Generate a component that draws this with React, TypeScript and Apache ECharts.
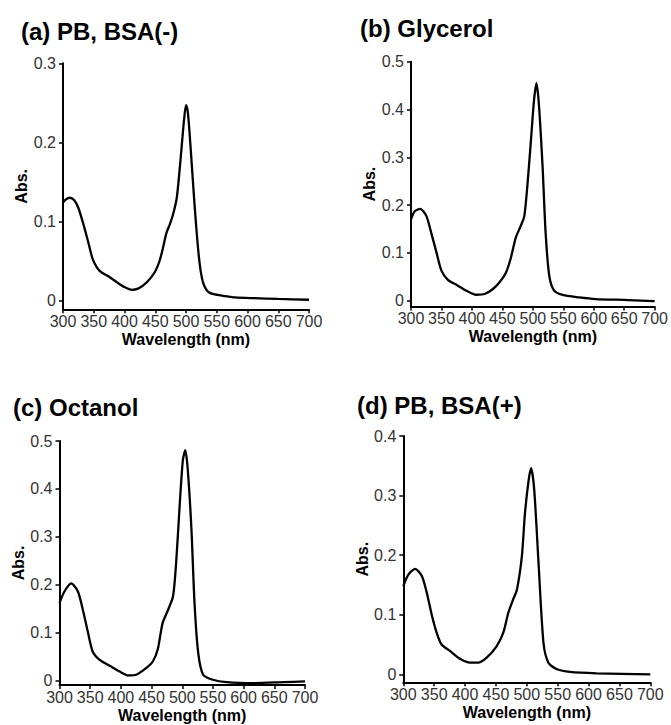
import React, { useEffect, useRef } from "react";
import * as echarts from "echarts";

// ---- Data ----
const panelTitles = ["(a) PB, BSA(-)", "(b) Glycerol", "(c) Octanol", "(d) PB, BSA(+)"];
const xTickValues = [300, 350, 400, 450, 500, 550, 600, 650, 700];
const yTicksA = [0, 0.1, 0.2, 0.3];
const yTicksB = [0, 0.1, 0.2, 0.3, 0.4, 0.5];
const yTicksC = [0, 0.1, 0.2, 0.3, 0.4, 0.5];
const yTicksD = [0, 0.1, 0.2, 0.3, 0.4];

// [wavelength (nm), absorbance]
const spectrumA: [number, number][] = [
  [300, 0.124], [305, 0.128], [311, 0.13], [318, 0.127], [325, 0.117], [333, 0.097],
  [341, 0.074], [348, 0.053], [355, 0.042], [362, 0.036], [375, 0.03], [388, 0.023],
  [400, 0.017], [412, 0.0135], [422, 0.015], [432, 0.02], [442, 0.028], [450, 0.037],
  [457, 0.05], [463, 0.068], [468, 0.085], [474, 0.097], [480, 0.112], [485, 0.13],
  [489, 0.16], [493, 0.195], [497, 0.23], [500, 0.247], [503, 0.238], [506, 0.21],
  [510, 0.165], [514, 0.12], [518, 0.08], [522, 0.048], [526, 0.028], [530, 0.018],
  [536, 0.011], [545, 0.008], [560, 0.006], [580, 0.004], [610, 0.003], [650, 0.002],
  [700, 0.001],
];
const spectrumB: [number, number][] = [
  [300, 0.17], [306, 0.187], [315, 0.192], [325, 0.178], [333, 0.143], [342, 0.1],
  [350, 0.063], [361, 0.043], [375, 0.033], [391, 0.021], [407, 0.0125], [421, 0.014],
  [434, 0.024], [445, 0.038], [456, 0.059], [464, 0.09], [472, 0.132], [480, 0.156],
  [486, 0.177], [491, 0.24], [497, 0.337], [502, 0.42], [506, 0.455], [510, 0.41],
  [516, 0.281], [521, 0.142], [527, 0.052], [535, 0.021], [549, 0.012], [576, 0.007],
  [603, 0.0035], [657, 0.0014], [700, -0.001],
];
const spectrumC: [number, number][] = [
  [300, 0.162], [308, 0.186], [319, 0.203], [330, 0.186], [338, 0.148], [346, 0.103],
  [354, 0.061], [365, 0.044], [382, 0.031], [398, 0.019], [412, 0.011], [425, 0.0125],
  [441, 0.026], [452, 0.04], [460, 0.065], [468, 0.12], [477, 0.148], [485, 0.176],
  [490, 0.245], [496, 0.37], [501, 0.46], [505, 0.481], [509, 0.44], [515, 0.315],
  [520, 0.162], [526, 0.058], [534, 0.0125], [550, 0.002], [572, -0.003], [616, -0.005],
  [665, -0.003], [700, -0.0015],
];
const spectrumD: [number, number][] = [
  [300, 0.148], [308, 0.167], [319, 0.177], [330, 0.165], [338, 0.137], [346, 0.1],
  [354, 0.07], [362, 0.05], [376, 0.039], [392, 0.026], [408, 0.0195], [421, 0.0195],
  [435, 0.028], [451, 0.047], [462, 0.07], [470, 0.103], [478, 0.126], [484, 0.142],
  [492, 0.198], [497, 0.27], [503, 0.326], [507, 0.346], [512, 0.31], [519, 0.187],
  [527, 0.053], [535, 0.0195], [549, 0.0084], [570, 0.004], [613, 0.0017], [700, 0],
];

const spectra = [spectrumA, spectrumB, spectrumC, spectrumD];
const yTicks = [yTicksA, yTicksB, yTicksC, yTicksD];
const yMax = [0.3, 0.5, 0.5, 0.4];
const yMin = [-0.0111, -0.0121, -0.009, -0.0134];

// ---- Layout (pixels) ----
const grids = [
  { left: 63, top: 63.3, width: 246, height: 246 },
  { left: 411, top: 61.7, width: 245, height: 244.8 },
  { left: 59.5, top: 441, width: 245.5, height: 244 },
  { left: 403.3, top: 436, width: 247, height: 246.3 },
];
const titlePos = [
  { x: 21, y: 31 },
  { x: 360, y: 28 },
  { x: 13, y: 407 },
  { x: 357, y: 405 },
];

const FONT = '"Liberation Sans", Arial, Helvetica, sans-serif';

export default function App() {
  const ref = useRef<HTMLDivElement>(null);
  useEffect(() => {
    if (!ref.current) return;
    const chart = echarts.init(ref.current, undefined, { renderer: "svg" });
    const option: any = {
      animation: false,
      backgroundColor: "#fff",
      textStyle: { fontFamily: FONT },
      grid: grids.map((g) => ({ ...g, containLabel: false })),
      xAxis: grids.map((_, i) => ({
        type: "value",
        gridIndex: i,
        min: 300,
        max: 700,
        interval: 50,
        name: "Wavelength (nm)",
        nameLocation: "middle",
        nameGap: 22,
        nameTextStyle: { fontFamily: FONT, fontWeight: "bold", fontSize: 16, color: "#000" },
        axisLine: { show: true, onZero: false, lineStyle: { color: "#000", width: 2 } },
        axisTick: { show: true, length: 4, lineStyle: { color: "#000", width: 1.5 }, customValues: xTickValues },
        axisLabel: { fontFamily: FONT, fontSize: 16, color: "#333", margin: 4, customValues: xTickValues },
        splitLine: { show: false },
      })),
      yAxis: grids.map((_, i) => ({
        type: "value",
        gridIndex: i,
        min: yMin[i],
        max: yMax[i],
        name: "Abs.",
        nameLocation: "middle",
        nameGap: 31,
        nameTextStyle: { fontFamily: FONT, fontWeight: "bold", fontSize: 16, color: "#000" },
        axisLine: { show: true, onZero: false, lineStyle: { color: "#000", width: 2 } },
        axisTick: { show: true, length: 4, lineStyle: { color: "#000", width: 1.5 }, customValues: yTicks[i] },
        axisLabel: { fontFamily: FONT, fontSize: 16, color: "#333", margin: 7, customValues: yTicks[i] },
        splitLine: { show: false },
      })),
      series: spectra.map((d, i) => ({
        type: "line",
        xAxisIndex: i,
        yAxisIndex: i,
        data: d,
        showSymbol: false,
        smooth: 0.25,
        lineStyle: { color: "#000", width: 2.3 },
      })),
      graphic: panelTitles.map((t, i) => ({
        type: "text",
        x: titlePos[i].x,
        y: titlePos[i].y,
        style: {
          text: t,
          font: `bold 24px ${FONT}`,
          fill: "#000",
          textVerticalAlign: "middle",
        },
      })),
    };
    chart.setOption(option);
    return () => chart.dispose();
  }, []);
  return (
    <div
      ref={ref}
      style={{ position: "absolute", left: 0, top: 0, width: 671, height: 725, background: "#fff" }}
    />
  );
}
